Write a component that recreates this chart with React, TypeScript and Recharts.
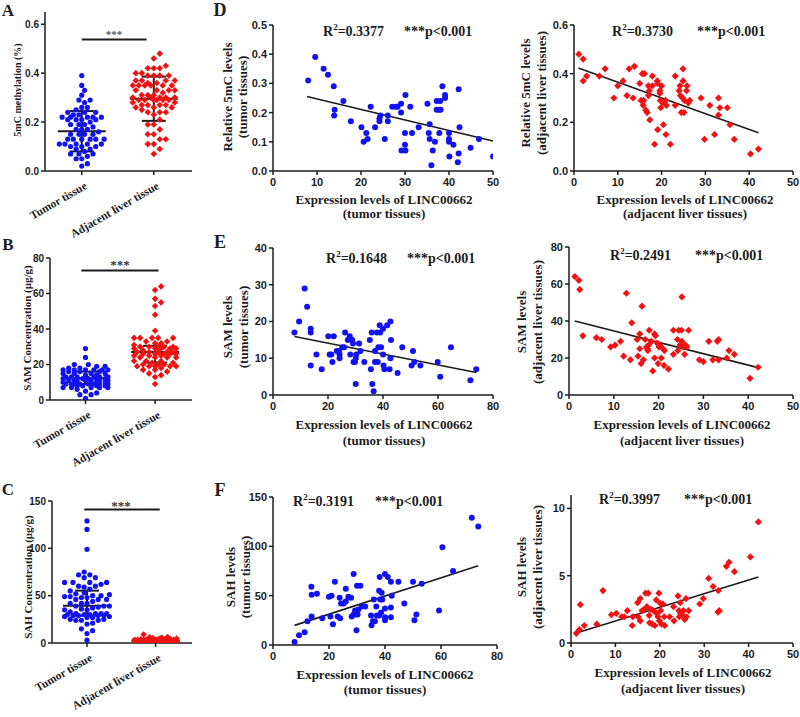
import React from "react"
import { ScatterChart, Scatter, XAxis, YAxis, ReferenceLine } from "recharts"

const SERIF = '"Liberation Serif", "Times New Roman", serif'
const SANS = '"Liberation Sans", Arial, sans-serif'
const BLUE = "#1212f0"
const RED = "#f01212"
const INK = "#1c1c1c"

const CATS = ["Tumor tissue", "Adjacent liver tissue"]

// [LINC00662 expression, level]
const tumor5mC = [
  [8.0, 0.31], [9.6, 0.39], [11.5, 0.35], [12.5, 0.33], [13.8, 0.29], [14.0, 0.21], [13.9, 0.19],
  [16.0, 0.24], [17.7, 0.17], [20.1, 0.15], [20.6, 0.1], [21.2, 0.13], [21.5, 0.11], [22.2, 0.22],
  [23.2, 0.15], [24.2, 0.17], [24.2, 0.18], [24.4, 0.19], [25.4, 0.11], [26.1, 0.19], [26.1, 0.17],
  [27.1, 0.22], [27.9, 0.22], [28.3, 0.22], [29.1, 0.23], [29.1, 0.2], [29.2, 0.07], [30.1, 0.26],
  [30.0, 0.13], [30.0, 0.09], [30.1, 0.07], [31.2, 0.22], [31.6, 0.13], [33.1, 0.15], [35.1, 0.23],
  [35.4, 0.13], [35.6, 0.16], [35.6, 0.11], [36.0, 0.02], [36.3, 0.07], [36.8, 0.1], [37.2, 0.24],
  [37.2, 0.21], [37.7, 0.21], [37.8, 0.13], [38.0, 0.24], [38.1, 0.21], [38.5, 0.29], [39.1, 0.26],
  [39.1, 0.25], [40.0, 0.13], [40.0, 0.11], [40.0, 0.1], [40.1, 0.05], [41.0, 0.09], [42.2, 0.28],
  [42.2, 0.06], [42.0, 0.03], [42.4, 0.15], [44.9, 0.08], [46.8, 0.11], [50.0, 0.05],
]
const adj5mC = [
  [1.1, 0.48], [2.1, 0.46], [2.1, 0.37], [2.9, 0.39], [5.8, 0.39], [7.1, 0.42], [9.1, 0.3], [10.0, 0.35],
  [11.2, 0.37], [12.1, 0.31], [12.6, 0.42], [13.5, 0.3], [13.8, 0.43], [15.0, 0.36], [15.3, 0.29],
  [15.6, 0.4], [15.8, 0.27], [15.9, 0.29], [16.1, 0.4], [16.4, 0.25], [16.7, 0.24], [17.0, 0.35],
  [17.0, 0.31], [17.2, 0.33], [17.3, 0.21], [17.9, 0.39], [17.9, 0.35], [18.4, 0.11], [19.0, 0.37],
  [19.1, 0.36], [19.1, 0.17], [19.6, 0.33], [19.6, 0.32], [19.7, 0.29], [19.8, 0.26], [20.0, 0.35],
  [20.2, 0.28], [20.4, 0.19], [20.9, 0.29], [21.0, 0.15], [21.1, 0.27], [22.0, 0.11], [23.1, 0.39],
  [23.1, 0.27], [24.0, 0.33], [24.2, 0.35], [24.3, 0.31], [24.5, 0.24], [24.8, 0.3], [24.9, 0.42],
  [24.9, 0.37], [25.1, 0.24], [25.2, 0.29], [25.7, 0.33], [25.8, 0.35], [26.1, 0.28], [26.4, 0.29],
  [29.0, 0.3], [29.8, 0.13], [31.0, 0.27], [32.1, 0.15], [33.0, 0.3], [33.0, 0.23], [33.3, 0.26],
  [35.0, 0.26], [35.6, 0.19], [36.6, 0.13], [40.3, 0.07], [42.1, 0.09],
]
const tumorSAM = [
  [7.8, 17], [9.5, 20], [11.5, 29], [12.4, 24], [13.7, 18], [13.7, 17], [13.7, 8], [15.8, 11], [17.7, 7],
  [20.1, 16], [20.6, 11], [21.2, 11], [21.6, 9], [22.1, 16], [23.2, 12], [24.0, 12], [24.2, 11], [24.2, 10],
  [25.2, 13], [25.9, 13], [26.2, 17], [27.2, 15], [27.9, 16], [28.1, 11], [28.8, 15], [29.1, 14], [29.3, 9],
  [29.8, 9], [30.1, 10], [30.1, 3], [30.3, 11], [31.3, 14], [31.8, 12], [33.2, 9], [35.2, 15], [35.6, 7],
  [35.9, 17], [36.1, 3], [36.6, 1], [37.1, 12], [37.1, 9], [37.8, 17], [38.1, 9], [38.3, 13], [38.8, 19],
  [39.0, 17], [39.3, 13], [40.0, 18], [40.0, 11], [40.2, 8], [40.5, 7], [41.5, 19], [42.4, 7], [42.7, 20],
  [42.7, 10], [42.9, 15], [45.3, 6], [47.0, 13], [50.4, 8], [50.9, 12], [51.4, 9], [53.6, 8], [59.9, 9],
  [60.8, 5], [64.7, 13], [71.8, 4], [73.9, 7],
]
const adjSAM = [
  [1.3, 64], [2.2, 62], [2.4, 57], [3.1, 32], [6.1, 31], [7.3, 30], [9.3, 26], [10.3, 27], [11.5, 29],
  [12.2, 21], [12.8, 55], [13.7, 19], [14.0, 39], [15.2, 30], [15.4, 21], [15.8, 33], [15.8, 25], [16.1, 17],
  [16.3, 48], [16.6, 19], [17.0, 30], [17.3, 26], [17.5, 25], [17.6, 24], [17.8, 27], [17.9, 35], [18.4, 29],
  [18.7, 13], [19.1, 33], [19.1, 20], [19.3, 32], [19.7, 28], [19.9, 17], [20.1, 26], [20.3, 27], [20.6, 20],
  [21.0, 25], [21.2, 16], [21.3, 24], [22.2, 14], [23.3, 35], [23.3, 22], [24.2, 30], [24.3, 24], [24.5, 35],
  [24.8, 27], [25.1, 35], [25.2, 53], [25.2, 29], [25.5, 26], [25.8, 22], [26.0, 27], [26.3, 26], [26.7, 35],
  [29.1, 19], [30.0, 18], [31.2, 29], [32.1, 19], [33.1, 29], [33.4, 19], [33.4, 30], [35.2, 20], [35.7, 24],
  [36.9, 22], [40.4, 9], [42.2, 15],
]
const tumorSAH = [
  [7.7, 3], [9.3, 10], [11.3, 13], [12.3, 24], [13.7, 59], [13.8, 51], [13.8, 29], [15.7, 52], [17.6, 27],
  [20.0, 49], [20.5, 29], [20.9, 50], [21.4, 21], [22.1, 64], [23.1, 29], [23.8, 48], [24.0, 27], [24.3, 42],
  [25.2, 42], [26.0, 57], [26.0, 44], [26.9, 49], [27.9, 48], [28.1, 29], [28.8, 72], [28.8, 31], [29.3, 35],
  [29.5, 31], [29.8, 15], [30.0, 60], [30.2, 31], [30.5, 36], [31.2, 60], [31.7, 39], [32.9, 39], [35.0, 30],
  [35.2, 20], [35.7, 24], [36.0, 46], [36.4, 24], [36.9, 39], [37.1, 30], [37.9, 55], [37.9, 30], [38.1, 69],
  [38.3, 46], [38.6, 33], [38.8, 53], [39.0, 46], [40.0, 72], [40.0, 28], [40.0, 25], [40.0, 37], [41.0, 69],
  [42.1, 64], [42.1, 38], [42.1, 28], [42.4, 50], [44.8, 64], [46.9, 42], [50.0, 64], [50.5, 25], [51.2, 31],
  [53.1, 62], [59.3, 35], [60.5, 99], [64.3, 75], [71.0, 129], [73.3, 120],
]
const adjSAH = [
  [1.2, 0.72], [2.1, 2.85], [1.9, 1.0], [3.0, 1.3], [5.8, 1.4], [7.2, 3.9], [9.1, 2.1], [10.2, 2.2],
  [11.4, 1.95], [12.0, 1.95], [12.7, 2.4], [13.8, 1.3], [13.9, 1.95], [15.0, 3.0], [15.1, 1.95], [15.6, 3.3],
  [15.6, 1.65], [16.0, 2.4], [16.5, 2.5], [16.8, 3.7], [17.1, 2.7], [17.4, 3.7], [17.6, 2.05], [17.7, 1.5],
  [18.0, 2.5], [18.3, 1.4], [18.6, 2.4], [18.9, 1.3], [19.2, 3.2], [19.3, 2.2], [19.6, 1.95], [19.8, 3.7],
  [19.9, 1.65], [20.1, 2.95], [20.2, 2.4], [20.4, 1.4], [20.7, 2.9], [21.0, 1.95], [21.1, 1.3], [22.2, 1.95],
  [23.1, 2.7], [23.2, 1.65], [24.1, 3.5], [24.3, 2.4], [24.4, 1.95], [24.6, 3.0], [24.7, 2.2], [25.0, 2.1],
  [25.3, 2.4], [25.4, 1.95], [25.6, 1.75], [25.9, 3.3], [26.0, 1.95], [26.5, 2.4], [29.0, 2.9], [29.8, 3.3],
  [31.0, 4.8], [32.0, 4.2], [33.1, 2.3], [33.4, 2.4], [33.2, 3.9], [35.0, 5.7], [35.6, 6.0], [36.8, 5.3],
  [40.4, 6.4], [42.2, 9.0],
]

// regression lines, end points
const fit5mCTumor = [[7.7, 0.255], [50, 0.103]]
const fit5mCAdj = [[1, 0.423], [42.1, 0.157]]
const fitSAMTumor = [[7.8, 15.9], [73.9, 6.1]]
const fitSAMAdj = [[1.3, 40], [42.2, 14.8]]
const fitSAHTumor = [[7.7, 19.9], [73.3, 80.4]]
const fitSAHAdj = [[1.2, 0.74], [42.2, 4.9]]

// dot plots: [category, centre, lower, upper]
const bar5mC = [[1, 0.163, 0.08, 0.245], [2, 0.295, 0.205, 0.386]]
const barSAM = [[1, 12.2, 9, 16], [2, 27.1, 21.1, 30.5]]
const barSAH = [[1, 39.4, 28.9, 55.3], [2, 2.5, 1.8, 3.3]]
// significance bar: [from, to, height]
const sig5mC = [1.0, 1.9, 0.538]
const sigSAM = [0.94, 2.05, 73]
const sigSAH = [0.96, 2.06, 141]

const ticks5mCDot = [0, 0.2, 0.4, 0.6]
const ticksSAMDot = [0, 20, 40, 60, 80]
const ticksSAHDot = [0, 50, 100, 150]
const ticksX50 = [0, 10, 20, 30, 40, 50]
const ticksX80 = [0, 20, 40, 60, 80]
const ticks5mCTumor = [0, 0.1, 0.2, 0.3, 0.4, 0.5]
const ticks5mCAdj = [0, 0.2, 0.4, 0.6]
const ticksSAMTumor = [0, 10, 20, 30, 40]
const ticksSAMAdj = [0, 20, 40, 60, 80]
const ticksSAHTumor = [0, 50, 100, 150]
const ticksSAHAdj = [0, 5, 10]

const toXY = (a: number[][]) => a.map(([x, y]) => ({ x, y }))

const dot = (r: number) => (p: any) => <circle cx={p.cx} cy={p.cy} r={r} fill={BLUE} />
const diamond = (s: number) => (p: any) => (
  <polygon
    points={`${p.cx},${p.cy - s} ${p.cx + s},${p.cy} ${p.cx},${p.cy + s} ${p.cx - s},${p.cy}`}
    fill={RED}
  />
)

const axisLine = { stroke: INK, strokeWidth: 1.5 }
const tickStyle = { fill: INK, fontSize: 11, fontWeight: "bold", fontFamily: SANS }

// slanted category label, rotated about its right end
const CatTick = (p: any) => {
  const x = p.x + 2
  const y = p.y + 4
  return (
    <text
      x={x}
      y={y}
      dy="0.71em"
      textAnchor="end"
      transform={`rotate(-30, ${x}, ${y})`}
      fill={INK}
      fontSize={11.5}
      fontWeight="bold"
      fontFamily={SERIF}
    >
      {CATS[Math.round(p.payload.value) - 1]}
    </text>
  )
}

// deterministic beeswarm, capped in width: where no free slot is left the
// least crowded one is taken, so dense groups overlap like the original
function swarm(values: number[], cat: number, pxX: number, pxY: number, d: number, half: number) {
  const placed: { x: number; y: number }[] = []
  const out: { x: number; y: number }[] = []
  const sorted = [...values].sort((a, b) => a - b)
  const step = d * 0.5
  const cands: number[] = [0]
  for (let k = 1; k * step <= half; k++) cands.push(k * step, -k * step)
  for (const v of sorted) {
    const py = v * pxY
    let best = 0
    let bestGap = -1
    for (const c of cands) {
      let gap = Infinity
      for (const p of placed) gap = Math.min(gap, Math.hypot(p.x - c, p.y - py))
      if (gap >= d) {
        best = c
        bestGap = gap
        break
      }
      if (gap > bestGap) {
        best = c
        bestGap = gap
      }
    }
    placed.push({ x: best, y: py })
    out.push({ x: cat + best / pxX, y: v })
  }
  return out
}

type Box = { x: number; y: number; w: number; h: number }

function ScatterPanel(props: {
  box: Box
  xMax: number
  xTicks: number[]
  yMax: number
  yTicks: number[]
  yDec: number
  pts: number[][]
  fit: number[][]
  marker: any
}) {
  const { box, xMax, xTicks, yMax, yTicks, yDec, pts, fit, marker } = props
  const YW = 40, MT = 8, MR = 10, XH = 24
  return (
    <div style={{ position: "absolute", left: box.x - YW, top: box.y - MT }}>
      <ScatterChart
        width={YW + box.w + MR}
        height={MT + box.h + XH}
        margin={{ top: MT, right: MR, bottom: 0, left: 0 }}
      >
        <XAxis
          type="number"
          dataKey="x"
          domain={[0, xMax]}
          ticks={xTicks}
          interval={0}
          allowDataOverflow
          height={XH}
          axisLine={axisLine}
          tickLine={axisLine}
          tickSize={4}
          tickMargin={3}
          tick={tickStyle}
        />
        <YAxis
          type="number"
          dataKey="y"
          domain={[0, yMax]}
          ticks={yTicks}
          interval={0}
          allowDataOverflow
          width={YW}
          axisLine={axisLine}
          tickLine={axisLine}
          tickSize={4}
          tickMargin={2}
          tick={tickStyle}
          tickFormatter={(v: number) => v.toFixed(yDec)}
        />
        <Scatter data={toXY(pts)} shape={marker} isAnimationActive={false} />
        <ReferenceLine
          segment={[{ x: fit[0][0], y: fit[0][1] }, { x: fit[1][0], y: fit[1][1] }]}
          stroke={INK}
          strokeWidth={1.6}
        />
      </ScatterChart>
    </div>
  )
}

function DotPanel(props: {
  box: Box
  yMax: number
  yTicks: number[]
  yDec: number
  tumor: number[]
  adj: number[]
  bars: number[][]
  sig: number[]
}) {
  const { box, yMax, yTicks, yDec, tumor, adj, bars, sig } = props
  const YW = 40, MT = 8, MR = 8, XH = 80
  const xDom = [0.49, 2.53]
  const pxX = box.w / (xDom[1] - xDom[0])
  const pxY = box.h / yMax
  const blue = swarm(tumor, 1, pxX, pxY, 5.6, 25)
  const red = swarm(adj, 2, pxX, pxY, 6, 23)
  const seg = (x1: number, y1: number, x2: number, y2: number, key: string) => (
    <ReferenceLine
      key={key}
      segment={[{ x: x1, y: y1 }, { x: x2, y: y2 }]}
      stroke={INK}
      strokeWidth={2}
    />
  )
  return (
    <div style={{ position: "absolute", left: box.x - YW, top: box.y - MT }}>
      <ScatterChart
        width={YW + box.w + MR}
        height={MT + box.h + XH}
        margin={{ top: MT, right: MR, bottom: 0, left: 0 }}
      >
        <XAxis
          type="number"
          dataKey="x"
          domain={xDom}
          ticks={[1, 2]}
          interval={0}
          allowDataOverflow
          height={XH}
          axisLine={axisLine}
          tickLine={axisLine}
          tickSize={4}
          tickMargin={2}
          tick={CatTick}
        />
        <YAxis
          type="number"
          dataKey="y"
          domain={[0, yMax]}
          ticks={yTicks}
          interval={0}
          allowDataOverflow
          width={YW}
          axisLine={axisLine}
          tickLine={axisLine}
          tickSize={4}
          tickMargin={2}
          tick={{ ...tickStyle, fontSize: 10 }}
          tickFormatter={(v: number) => v.toFixed(yDec)}
        />
        <Scatter data={blue} shape={dot(2.6)} isAnimationActive={false} />
        <Scatter data={red} shape={diamond(3.3)} isAnimationActive={false} />
        {bars.map(([c, mid, lo, hi], i) => [
          seg(c - 24 / pxX, mid, c + 24 / pxX, mid, `m${i}`),
          seg(c - 12 / pxX, lo, c + 12 / pxX, lo, `l${i}`),
          seg(c - 12 / pxX, hi, c + 12 / pxX, hi, `h${i}`),
          seg(c, lo, c, hi, `v${i}`),
        ])}
        {seg(sig[0], sig[2], sig[1], sig[2], "sig")}
      </ScatterChart>
    </div>
  )
}

function Txt(props: {
  x: number
  y: number
  size: number
  children: React.ReactNode
  rot?: boolean
  left?: boolean
  color?: string
}) {
  const { x, y, size, children, rot, left, color = INK } = props
  return (
    <div
      style={{
        position: "absolute",
        left: x,
        top: y,
        transform: `translate(${left ? "0" : "-50%"}, -50%)${rot ? " rotate(-90deg)" : ""}`,
        fontFamily: SERIF,
        fontWeight: "bold",
        fontSize: size,
        lineHeight: 1,
        whiteSpace: "nowrap",
        color,
      }}
    >
      {children}
    </div>
  )
}

function Stats({ x1, x2, y, r2 }: { x1: number; x2: number; y: number; r2: string }) {
  return (
    <>
      <Txt x={x1} y={y} size={14} left>
        R<sup style={{ fontSize: 9, verticalAlign: "super", lineHeight: 0 }}>2</sup>={r2}
      </Txt>
      <Txt x={x2} y={y} size={14} left>
        ***p&lt;0.001
      </Txt>
    </>
  )
}

export default function App() {
  return (
    <div style={{ position: "absolute", left: 0, top: 0, width: 800, height: 717, background: "#fff", overflow: "hidden" }}>
      <DotPanel
        box={{ x: 45, y: 12, w: 147, h: 159 }}
        yMax={0.65}
        yTicks={ticks5mCDot}
        yDec={1}
        tumor={tumor5mC.map((p) => p[1])}
        adj={adj5mC.map((p) => p[1])}
        bars={bar5mC}
        sig={sig5mC}
      />
      <DotPanel
        box={{ x: 50, y: 258, w: 142, h: 142 }}
        yMax={80}
        yTicks={ticksSAMDot}
        yDec={0}
        tumor={tumorSAM.map((p) => p[1])}
        adj={adjSAM.map((p) => p[1])}
        bars={barSAM}
        sig={sigSAM}
      />
      <DotPanel
        box={{ x: 52, y: 501, w: 140, h: 142 }}
        yMax={150}
        yTicks={ticksSAHDot}
        yDec={0}
        tumor={tumorSAH.map((p) => p[1])}
        adj={adjSAH.map((p) => p[1])}
        bars={barSAH}
        sig={sigSAH}
      />

      <ScatterPanel box={{ x: 273, y: 25, w: 220, h: 146 }} xMax={50} xTicks={ticksX50} yMax={0.5} yTicks={ticks5mCTumor} yDec={1} pts={tumor5mC} fit={fit5mCTumor} marker={dot(3)} />
      <ScatterPanel box={{ x: 574, y: 25, w: 219, h: 146 }} xMax={50} xTicks={ticksX50} yMax={0.6} yTicks={ticks5mCAdj} yDec={1} pts={adj5mC} fit={fit5mCAdj} marker={diamond(3.6)} />
      <ScatterPanel box={{ x: 273, y: 248, w: 220, h: 147 }} xMax={80} xTicks={ticksX80} yMax={40} yTicks={ticksSAMTumor} yDec={0} pts={tumorSAM} fit={fitSAMTumor} marker={dot(3)} />
      <ScatterPanel box={{ x: 569, y: 247, w: 224, h: 148 }} xMax={50} xTicks={ticksX50} yMax={80} yTicks={ticksSAMAdj} yDec={0} pts={adjSAM} fit={fitSAMAdj} marker={diamond(3.6)} />
      <ScatterPanel box={{ x: 273, y: 497, w: 224, h: 148 }} xMax={80} xTicks={ticksX80} yMax={150} yTicks={ticksSAHTumor} yDec={0} pts={tumorSAH} fit={fitSAHTumor} marker={dot(3)} />
      <ScatterPanel box={{ x: 571, y: 495, w: 222, h: 148 }} xMax={50} xTicks={ticksX50} yMax={11} yTicks={ticksSAHAdj} yDec={0} pts={adjSAH} fit={fitSAHAdj} marker={diamond(3.6)} />

      {/* panel letters */}
      <Txt x={8} y={10} size={17}>A</Txt>
      <Txt x={8} y={244} size={17}>B</Txt>
      <Txt x={8} y={489} size={17}>C</Txt>
      <Txt x={220} y={10} size={18}>D</Txt>
      <Txt x={220} y={242} size={18}>E</Txt>
      <Txt x={220} y={490} size={18}>F</Txt>

      {/* dot plot titles and stars */}
      <Txt x={18} y={90} size={10} rot>5mC methylation (%)</Txt>
      <Txt x={27} y={328} size={11} rot>SAM Concentration (μg/g)</Txt>
      <Txt x={28} y={577} size={11} rot>SAH Concentration (μg/g)</Txt>
      <Txt x={114} y={34} size={11} color="#555">***</Txt>
      <Txt x={120} y={264} size={13} color="#333">***</Txt>
      <Txt x={121} y={505} size={13} color="#333">***</Txt>

      {/* statistics */}
      <Stats x1={323} x2={404} y={32} r2="0.3377" />
      <Stats x1={612} x2={697} y={32} r2="0.3730" />
      <Stats x1={326} x2={407} y={259} r2="0.1648" />
      <Stats x1={610} x2={695} y={256} r2="0.2491" />
      <Stats x1={293} x2={375} y={502} r2="0.3191" />
      <Stats x1={599} x2={684} y={500} r2="0.3997" />

      {/* x titles */}
      <Txt x={384} y={199} size={13}>Expression levels of LINC00662</Txt>
      <Txt x={384} y={213} size={13}>(tumor tissues)</Txt>
      <Txt x={685} y={199} size={13}>Expression levels of LINC00662</Txt>
      <Txt x={685} y={213} size={13}>(adjacent liver tissues)</Txt>
      <Txt x={384} y={424} size={13}>Expression levels of LINC00662</Txt>
      <Txt x={384} y={440} size={13}>(tumor tissues)</Txt>
      <Txt x={682} y={424} size={13}>Expression levels of LINC00662</Txt>
      <Txt x={682} y={440} size={13}>(adjacent liver tissues)</Txt>
      <Txt x={385} y={674} size={13}>Expression levels of LINC00662</Txt>
      <Txt x={385} y={689} size={13}>(tumor tissues)</Txt>
      <Txt x={683} y={672} size={13}>Expression levels of LINC00662</Txt>
      <Txt x={683} y={688} size={13}>(adjacent liver tissues)</Txt>

      {/* y titles */}
      <Txt x={227} y={97} size={13} rot>Relative 5mC levels</Txt>
      <Txt x={242} y={97} size={13} rot>(tumor tissues)</Txt>
      <Txt x={525} y={93} size={13} rot>Relative 5mC levels</Txt>
      <Txt x={541} y={93} size={13} rot>(adjacent liver tissues)</Txt>
      <Txt x={227} y={327} size={13} rot>SAM levels</Txt>
      <Txt x={243} y={327} size={13} rot>(tumor tissues)</Txt>
      <Txt x={521} y={322} size={13} rot>SAM levels</Txt>
      <Txt x={537} y={322} size={13} rot>(adjacent liver tissues)</Txt>
      <Txt x={230} y={577} size={13} rot>SAH levels</Txt>
      <Txt x={245} y={577} size={13} rot>(tumor tissues)</Txt>
      <Txt x={521} y={567} size={13} rot>SAH levels</Txt>
      <Txt x={537} y={567} size={13} rot>(adjacent liver tissues)</Txt>
    </div>
  )
}
